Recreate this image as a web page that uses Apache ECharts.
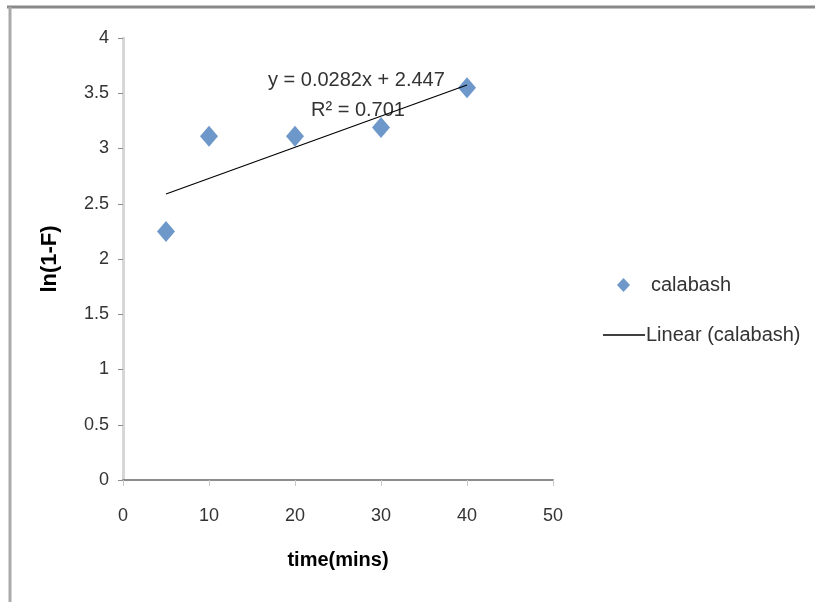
<!DOCTYPE html>
<html>
<head>
<meta charset="utf-8">
<script src="https://cdn.jsdelivr.net/npm/echarts@6/dist/echarts.min.js"></script>
<style>
html,body{margin:0;padding:0;background:#fff;}
#chart{width:815px;height:602px;}
</style>
</head>
<body>
<div id="chart"></div>
<script>
// Data
var timeMins = [5, 10, 20, 30, 40];
var lnValues = [2.25, 3.11, 3.11, 3.19, 3.55];
var trendX = [5, 40];
var trendY = [2.588, 3.575]; // from y = 0.0282x + 2.447
var seriesName = 'calabash';
var trendName = 'Linear (calabash)';
var xTicks = [0, 10, 20, 30, 40, 50];
var yTicks = [0, 0.5, 1, 1.5, 2, 2.5, 3, 3.5, 4];
var eqText = 'y = 0.0282x + 2.447';
var r2Text = 'R\u00B2 = 0.701';

var FONT = '"Liberation Sans", sans-serif';
var chart = echarts.init(document.getElementById('chart'));
var scatterData = timeMins.map(function (t, i) { return [t, lnValues[i]]; });
var trendData = trendX.map(function (t, i) { return [t, trendY[i]]; });

chart.setOption({
  backgroundColor: '#ffffff',
  animation: false,
  grid: { left: 123, right: 262, top: 38, bottom: 122 },
  xAxis: {
    type: 'value', min: 0, max: 50, interval: 10,
    name: 'time(mins)', nameLocation: 'middle', nameGap: 70,
    nameTextStyle: { fontFamily: FONT, fontSize: 20, fontWeight: 'bold', color: '#000' },
    axisLine: { lineStyle: { color: '#8c8c8c', width: 2 } },
    axisTick: { show: true, length: 6, lineStyle: { color: '#c8c8c8' } },
    axisLabel: { fontFamily: FONT, fontSize: 18, color: '#333', margin: 27 },
    splitLine: { show: false }
  },
  yAxis: {
    type: 'value', min: 0, max: 4, interval: 0.5,
    name: 'ln(1-F)', nameLocation: 'middle', nameGap: 62,
    nameTextStyle: { fontFamily: FONT, fontSize: 22, fontWeight: 'bold', color: '#000' },
    axisLine: { show: true, lineStyle: { color: '#d6d6d6', width: 3 } },
    axisTick: { show: true, length: 5, lineStyle: { color: '#8c8c8c' } },
    axisLabel: { fontFamily: FONT, fontSize: 18, color: '#333', margin: 14 },
    splitLine: { show: false }
  },
  legend: [
    {
      left: 612, top: 270, orient: 'vertical',
      itemWidth: 13, itemHeight: 14,
      data: [{ name: seriesName, icon: 'diamond' }],
      textStyle: { fontFamily: FONT, fontSize: 20, color: '#333', padding: [0, 0, 0, 16] }
    },
    {
      left: 598, top: 320, orient: 'vertical',
      itemWidth: 42, itemHeight: 1.3,
      data: [{ name: trendName, icon: 'rect' }],
      itemStyle: { color: '#000' },
      textStyle: { fontFamily: FONT, fontSize: 20, color: '#333', padding: [0, 0, 0, -4] }
    }
  ],
  series: [
    {
      name: seriesName, type: 'scatter', data: scatterData,
      symbol: 'diamond', symbolSize: [18, 21],
      itemStyle: { color: '#4a7ebb' }, z: 3
    },
    {
      name: trendName, type: 'line', data: trendData,
      showSymbol: false, symbol: 'none',
      lineStyle: { color: '#000', width: 1.2 },
      itemStyle: { color: '#000' }, z: 4
    }
  ],
  graphic: [
    { type: 'line', shape: { x1: 7, y1: 7, x2: 815, y2: 7 }, style: { stroke: '#888', lineWidth: 3 } },
    { type: 'line', shape: { x1: 10, y1: 7, x2: 10, y2: 602 }, style: { stroke: '#aaa', lineWidth: 3 } },
    { type: 'text', left: 268, top: 70, style: { text: eqText, font: '20px ' + FONT, fill: '#333' } },
    { type: 'text', left: 311, top: 100, style: { text: r2Text, font: '20px ' + FONT, fill: '#333' } }
  ]
});
</script>
</body>
</html>
